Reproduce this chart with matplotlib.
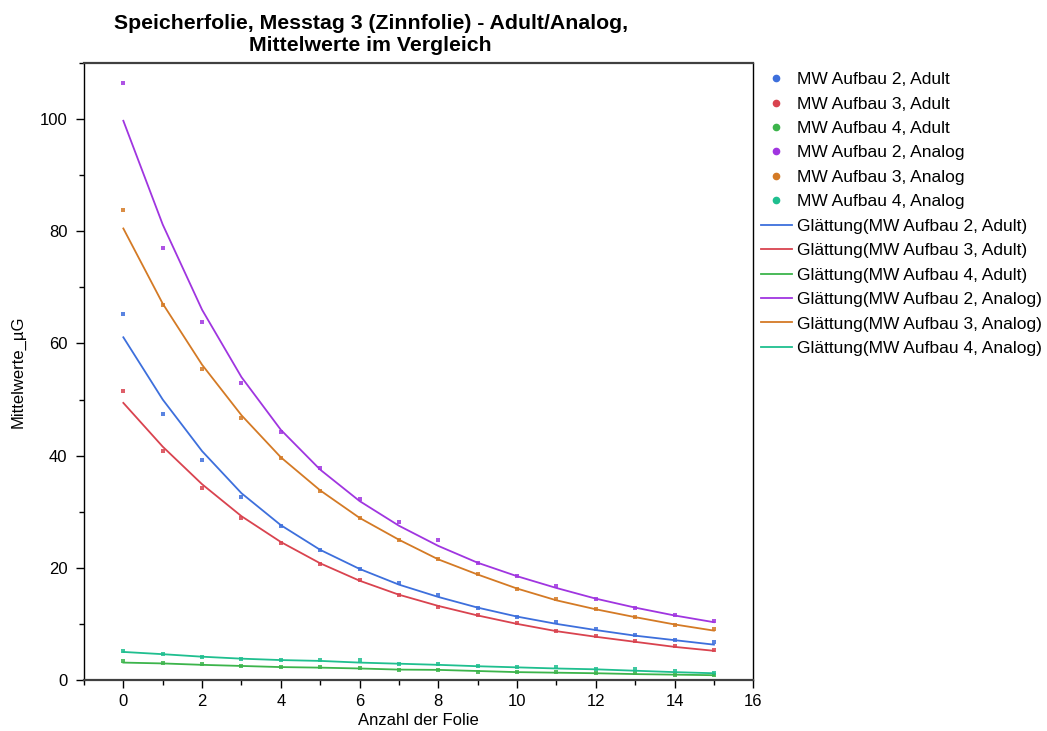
import numpy as np
import matplotlib
matplotlib.use("Agg")
import matplotlib.pyplot as plt
from matplotlib.lines import Line2D
from matplotlib.ticker import MultipleLocator

plt.rcParams['font.family'] = ['Liberation Sans', 'DejaVu Sans']

# Daten: Anzahl der Folie und Mittelwerte
folie = np.arange(16)

mw_a2 = [65.3, 47.5, 39.3, 32.7, 27.5, 23.1, 19.8, 17.3, 15.2, 12.9, 11.3, 10.3, 9.0, 7.95, 7.2, 6.7]
mw_a3 = [51.5, 40.9, 34.2, 28.8, 24.4, 20.6, 17.8, 15.2, 13.1, 11.5, 10.1, 8.7, 7.9, 6.9, 6.1, 5.3]
mw_a4 = [3.3, 3.0, 2.8, 2.5, 2.25, 2.25, 2.2, 1.7, 1.7, 1.5, 1.5, 1.35, 1.2, 1.2, 0.95, 0.85]
mw_n2 = [106.5, 77.0, 63.8, 52.9, 44.3, 37.8, 32.3, 28.2, 24.9, 20.9, 18.6, 16.8, 14.5, 12.9, 11.6, 10.6]
mw_n3 = [83.8, 66.9, 55.5, 46.7, 39.6, 33.7, 28.9, 25.0, 21.5, 18.9, 16.3, 14.4, 12.6, 11.3, 9.8, 9.0]
mw_n4 = [5.1, 4.6, 4.1, 3.8, 3.6, 3.6, 3.5, 2.8, 2.8, 2.5, 2.25, 2.25, 2.0, 2.0, 1.55, 1.2]

# Glättung
gl_a2 = [61.1, 50.0, 40.8, 33.3, 27.6, 23.2, 19.8, 17.0, 14.8, 12.9, 11.3, 10.0, 8.9, 7.9, 7.1, 6.3]
gl_a3 = [49.4, 41.6, 34.9, 29.2, 24.6, 20.8, 17.7, 15.2, 13.2, 11.5, 10.0, 8.7, 7.7, 6.8, 5.9, 5.2]
gl_a4 = [3.1, 2.95, 2.7, 2.5, 2.3, 2.2, 2.05, 1.85, 1.8, 1.6, 1.4, 1.3, 1.2, 1.05, 0.95, 0.85]
gl_n2 = [99.7, 81.2, 66.0, 54.0, 44.6, 37.5, 31.9, 27.5, 23.9, 20.9, 18.5, 16.4, 14.5, 12.9, 11.5, 10.3]
gl_n3 = [80.5, 67.1, 56.2, 47.2, 39.7, 33.8, 28.9, 25.0, 21.5, 18.8, 16.3, 14.2, 12.6, 11.2, 9.9, 8.8]
gl_n4 = [5.0, 4.6, 4.15, 3.8, 3.55, 3.4, 3.1, 2.9, 2.7, 2.45, 2.25, 2.05, 1.9, 1.65, 1.4, 1.2]

namen = ["MW Aufbau 2, Adult", "MW Aufbau 3, Adult", "MW Aufbau 4, Adult",
         "MW Aufbau 2, Analog", "MW Aufbau 3, Analog", "MW Aufbau 4, Analog"]
farben = ["#3d6fdc", "#d9434f", "#3cb44b", "#a035e0", "#d47a25", "#1fbf8f"]

messwerte = [mw_a2, mw_a3, mw_a4, mw_n2, mw_n3, mw_n4]
glaettung = [gl_a2, gl_a3, gl_a4, gl_n2, gl_n3, gl_n4]

# %% Graphique
fig = plt.figure(figsize=(10.47, 7.31), dpi=100)
ax = fig.add_axes([0.0802, 0.0698, 0.6393, 0.844])

for y, c in zip(messwerte, farben):
    ax.plot(folie, y, 's', color=c, markersize=2.2, markeredgewidth=0, alpha=0.85)
for y, c in zip(glaettung, farben):
    ax.plot(folie, y, '-', color=c, linewidth=1.3)

ax.set_xlim(-1, 16)
ax.set_ylim(0, 110)
ax.xaxis.set_major_locator(MultipleLocator(2))
ax.xaxis.set_minor_locator(MultipleLocator(1))
ax.yaxis.set_major_locator(MultipleLocator(20))
ax.yaxis.set_minor_locator(MultipleLocator(10))
ax.tick_params(which='major', direction='out', length=6, width=1, labelsize=12, pad=4)
ax.tick_params(axis='y', which='major', pad=6)
ax.tick_params(which='minor', direction='out', length=3.5, width=1)

for s in ['top', 'bottom']:
    ax.spines[s].set_color('#404040')
    ax.spines[s].set_linewidth(1.6)
for s in ['left', 'right']:
    ax.spines[s].set_color('black')
    ax.spines[s].set_linewidth(1.0)

ax.set_xlabel("Anzahl der Folie", fontsize=12, labelpad=3)
ax.set_ylabel("Mittelwerte_µG", fontsize=12, labelpad=10)

fig.text(0.354, 0.953, "Speicherfolie, Messtag 3 (Zinnfolie) - Adult/Analog,\nMittelwerte im Vergleich",
         ha='center', va='center', fontsize=15.3, fontweight='bold', linespacing=1.2)

handles = []
labels = []
for n, c in zip(namen, farben):
    handles.append(Line2D([], [], marker='o', linestyle='none', color=c, markersize=4.5))
    labels.append(n)
for n, c in zip(namen, farben):
    handles.append(Line2D([], [], linestyle='-', color=c, linewidth=1.3))
    labels.append("Glättung(" + n + ")")

fig.legend(handles, labels, loc='upper left', bbox_to_anchor=(0.727, 0.9015),
           frameon=False, fontsize=12.5, handlelength=1.75, handletextpad=0.3,
           labelspacing=0.535, borderpad=0, borderaxespad=0)

fig.savefig("out.png", dpi=100)
